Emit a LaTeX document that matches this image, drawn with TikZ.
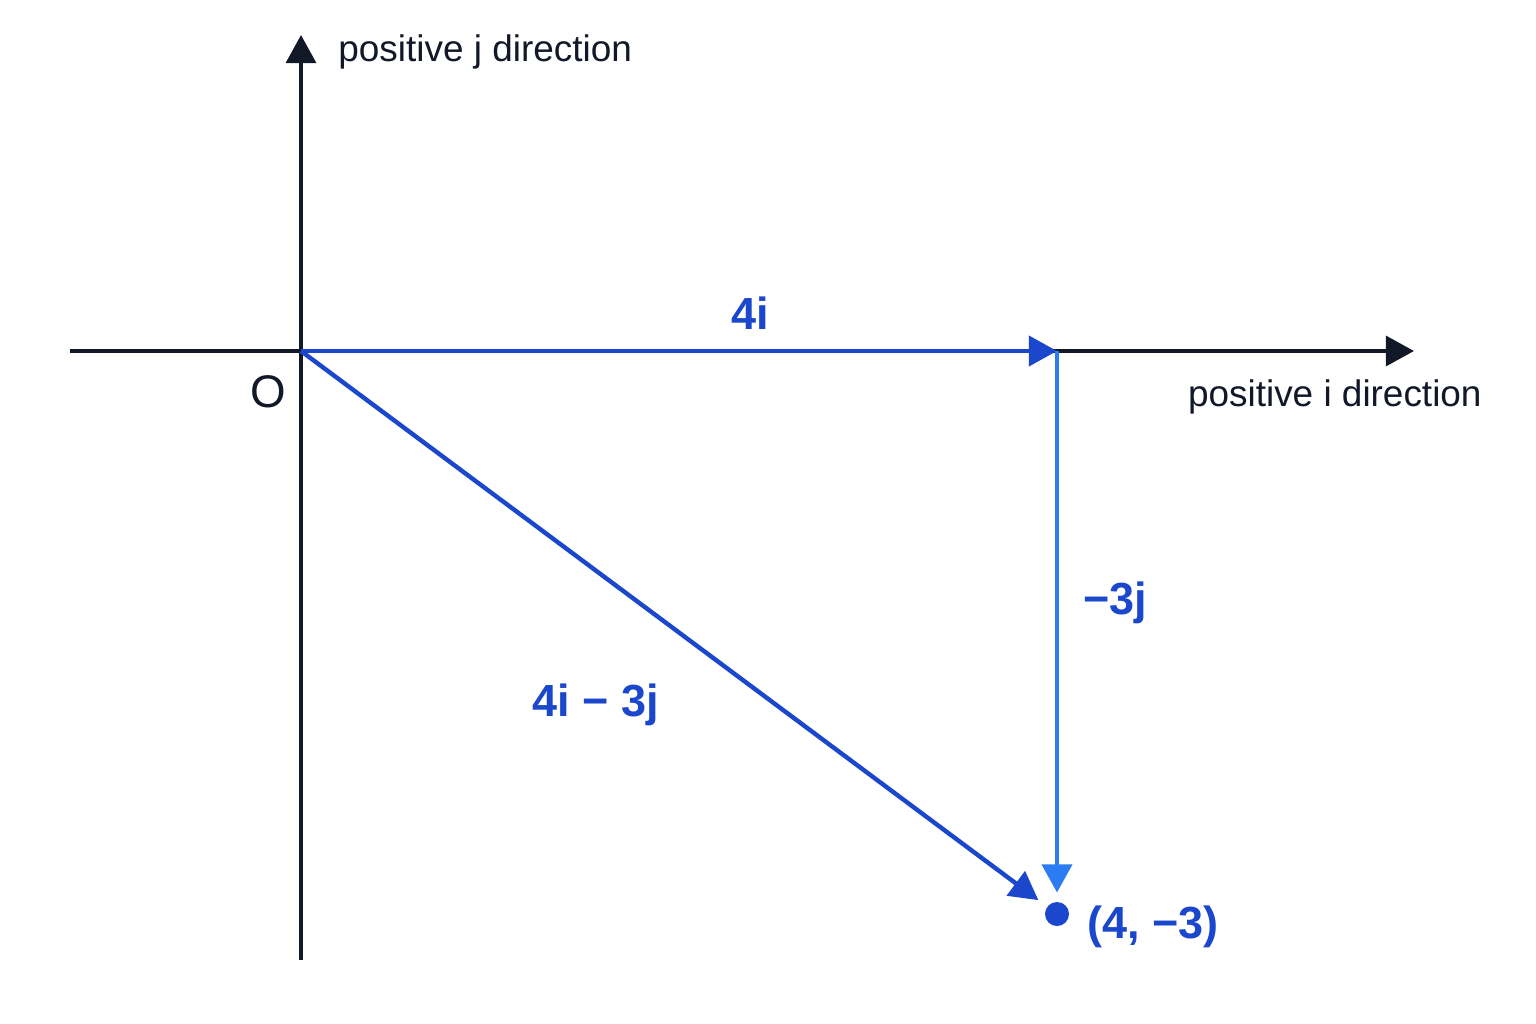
\documentclass[tikz,border=0pt]{standalone}
\usepackage{fontspec}
\setsansfont{Liberation Sans}
\usetikzlibrary{arrows.meta}
\usetikzlibrary{positioning}
\definecolor{axisblack}{HTML}{111827}
\definecolor{vecblue}{HTML}{1B47CC}
\definecolor{lightblue}{HTML}{2B7CF2}

\begin{document}
\begin{tikzpicture}[x=0.01cm,y=-0.01cm,font=\sffamily,
axis/.style={axisblack,line width=1.1pt,-{Triangle[length=8pt,width=8.5pt]}},
vec/.style={line width=1.25pt,-{Triangle[length=8pt,width=8.5pt]}},
axlbl/.style={axisblack,font=\sffamily\fontsize{10.5}{13}\selectfont},
lbl/.style={vecblue,font=\sffamily\bfseries\fontsize{12.8}{15}\selectfont}]
\useasboundingbox[fill=white](0,0)rectangle(1536,1024);
\coordinate(O)at(301,351);
\coordinate(A)at(1057,351);
\coordinate(XL)at(70,351);
\coordinate(XR)at(1414,351);
\coordinate(YB)at(301,960);
\coordinate(YT)at(301,35);
\node[circle,fill=vecblue,minimum size=0.24cm,inner sep=0pt](P)at(1057,914){};

%%axes
\draw[axis](XL)--(XR);
\draw[axis](YB)--(YT);
\node[axlbl,anchor=west](Yname)at(326,52){positive j direction};
\node[axlbl,anchor=east](Xname)at(1494,397){positive i direction};
\node[axisblack,font=\sffamily\fontsize{13}{15}\selectfont](Oname)at(268,392){O};

%%vectors
\draw[vec,vecblue](O)--(A);
\draw[vec,lightblue,shorten >=2.5pt](A)--(P);
\draw[vec,vecblue,shorten >=3pt](O)--(P);

%labels
\node[lbl](L4i)at(750,313){4i};
\node[lbl](L3j)at(1115,603){−3j};
\node[lbl](Lsum)at(596,705){4i − 3j};
\node[lbl,anchor=west](Lpt)at(1075,927){(4, −3)};
\end{tikzpicture}
\end{document}
